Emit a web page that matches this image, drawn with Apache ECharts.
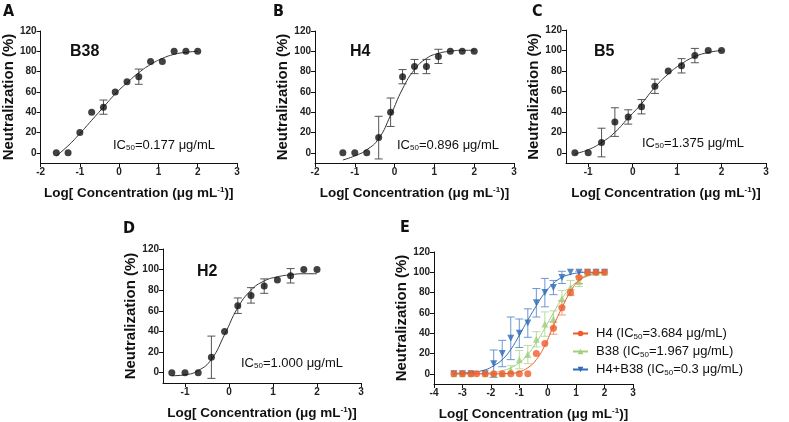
<!DOCTYPE html>
<html><head><meta charset="utf-8">
<script src="https://cdn.jsdelivr.net/npm/echarts@6/dist/echarts.min.js"></script>
<style>html,body{margin:0;padding:0;background:#fff}#c{width:789px;height:422px}</style>
</head><body><div id="c"></div>
<script>
// ---------- data ----------
// Panel A: B38
const xA = [-1.6,-1.3,-1.0,-0.7,-0.4,-0.1,0.2,0.5,0.8,1.1,1.4,1.7,2.0];
const yA = [0,0,20,40,45,60,70,75,90,90,100,100,100];
const eA = [0,0,0,0,7,0,0,7.5,0,0,0,0,0];
const cxA = [-1.6,-1.3,-1.0,-0.7,-0.4,-0.1,0.2,0.5,0.8,1.1,1.4,1.7,2.0];
const cyA = [-3,7,19,32,45,58,69,79,87,93,97,99,100];
// Panel B: H4
const xB = [-1.3,-1.0,-0.7,-0.4,-0.1,0.2,0.5,0.8,1.1,1.4,1.7,2.0];
const yB = [0,0,0,15,40,75,85,85,95,100,100,100];
const eB = [0,0,0,21,14,7,7,7,7,0,0,0];
const cxB = [-1.3,-1.0,-0.7,-0.4,-0.1,0.2,0.5,0.8,1.1,1.4,1.7,2.0];
const cyB = [-7,-3,3,14,37,63,82,93,98,100,101,101];
// Panel C: B5
const xC = [-1.3,-1.0,-0.7,-0.4,-0.1,0.2,0.5,0.8,1.1,1.4,1.7,2.0];
const yC = [0,0,10,30,35,45,65,80,85,95,100,100];
const eC = [0,0,14,14,7,7,7,0,7,7,0,0];
const cxC = [-1.3,-1.0,-0.7,-0.4,-0.1,0.2,0.5,0.8,1.1,1.4,1.7,2.0];
const cyC = [-1,3,10,20,34,48,64,77,87,94,98,100];
// Panel D: H2
const xD = [-1.3,-1.0,-0.7,-0.4,-0.1,0.2,0.5,0.8,1.1,1.4,1.7,2.0];
const yD = [0,0,0,15,40,65,75,84,90,94,100,100];
const eD = [0,0,0,20.5,0,7.5,7.5,7,0,7,0,0];
const cxD = [-1.3,-1.0,-0.7,-0.4,-0.1,0.2,0.5,0.8,1.1,1.4,1.7,2.0];
const cyD = [-3,-2,2,13,37,63,80,89,93,95,96,96];
// Panel E
const xE1 = [-3.3,-3.0,-2.7,-2.5,-2.2,-1.9,-1.6,-1.3,-1.0,-0.7,-0.4,-0.1,0.2,0.5,0.8,1.1,1.4,1.7,2.0];
const yE1 = [0,0,0,0,0,0,0,0,0,0,20,30,45,65,80,95,100,100,100];
const eE1 = [0,0,0,0,0,0,0,0,0,0,0,0,6,7,3,6,0,0,0];
const cxE1 = [-3.3,-2.0,-1.3,-1.0,-0.7,-0.4,-0.1,0.2,0.5,0.8,1.1,1.4,1.7,2.0];
const cyE1 = [0,0,0.5,2,6,14,28,47,65,81,92,97,99,100];
const xE2 = [-3.3,-3.0,-2.7,-2.2,-1.9,-1.6,-1.3,-1.0,-0.7,-0.4,-0.1,0.2,0.5,0.8,1.1,1.4,1.7,2.0];
const yE2 = [0,0,0,0,0,0,4,14,19,34,49,54,74,85,91,100,100,100];
const eE2 = [0,0,0,0,0,0,4,9,9,7.5,12,8,8,7,5,0,0,0];
const cxE2 = [-3.3,-2.3,-1.9,-1.6,-1.3,-1.0,-0.7,-0.4,-0.1,0.2,0.5,0.8,1.1,1.4,1.7,2.0];
const cyE2 = [0,0.5,1.5,3,6,11,19,31,45,60,74,85,92,96,98,99];
const xE3 = [-3.3,-3.0,-2.7,-2.2,-1.9,-1.6,-1.3,-1.0,-0.7,-0.4,-0.1,0.2,0.5,0.8,1.1,1.4,1.7,2.0];
const yE3 = [0,0,0,0,10,20,35,40,50,70,80,85,95,100,100,100,100,100];
const eE3 = [0,0,0,0,13.5,13,21,14,14,14,14,7,6,0,0,0,0,0];
const cxE3 = [-3.3,-2.7,-2.2,-1.9,-1.6,-1.3,-1.0,-0.7,-0.4,-0.1,0.2,0.5,0.8,1.1,1.4,2.0];
const cyE3 = [0.5,1.5,4,8,14,24,38,53,67,80,89,95,98,99.5,100,100];
// tick labels
const yTicks = [0,20,40,60,80,100,120];
const xTicksAB = [-2,-1,0,1,2,3];
const xTicksCD = [-1,0,1,2,3];
const xTicksE = [-4,-3,-2,-1,0,1,2,3];
const legendNames = ['H4 (IC50=3.684 μg/mL)','B38 (IC50=1.967 μg/mL)','H4+B38 (IC50=0.3 μg/mL)'];
const legendRich = ['H4 (IC{s|50}=3.684 μg/mL)','B38 (IC{s|50}=1.967 μg/mL)','H4+B38 (IC{s|50}=0.3 μg/mL)'];

// ---------- helpers ----------
const FONT = 'Liberation Sans, Arial, sans-serif';
const zip = (xs, ys) => xs.map((x, i) => [x, ys[i]]);
const errData = (xs, ys, es) => xs.map((x, i) => [x, ys[i] - es[i], ys[i] + es[i], es[i]]).filter(d => d[3] > 0);

function errSeries(idx, data, color) {
  return {
    type: 'custom', xAxisIndex: idx, yAxisIndex: idx, data: data, z: 2, silent: true,
    renderItem: function (params, api) {
      const x = api.value(0), lo = api.value(1), hi = api.value(2);
      const p1 = api.coord([x, hi]), p2 = api.coord([x, lo]);
      const w = 4, st = { stroke: color, lineWidth: 1 };
      return { type: 'group', children: [
        { type: 'line', shape: { x1: p1[0], y1: p1[1], x2: p2[0], y2: p2[1] }, style: st },
        { type: 'line', shape: { x1: p1[0] - w, y1: p1[1], x2: p1[0] + w, y2: p1[1] }, style: st },
        { type: 'line', shape: { x1: p2[0] - w, y1: p2[1], x2: p2[0] + w, y2: p2[1] }, style: st }
      ]};
    }
  };
}
function xAxisOf(idx, min, max, ticks) {
  return {
    gridIndex: idx, type: 'value', min: min, max: max,
    axisLine: { onZero: false, lineStyle: { color: '#111', width: 1 } },
    axisTick: { length: 4, lineStyle: { color: '#111' }, customValues: ticks },
    axisLabel: { customValues: ticks, fontSize: 10, fontWeight: 'bold', color: '#222', margin: 4, fontFamily: FONT },
    splitLine: { show: false },
    name: 'Log[ Concentration (μg mL{sup|-1})]', nameLocation: 'middle', nameGap: 23,
    nameTextStyle: { fontSize: 13.5, fontWeight: 'bold', color: '#111', fontFamily: FONT,
      rich: { sup: { fontSize: 8, fontWeight: 'bold', verticalAlign: 'top', color: '#111' } } }
  };
}
function yAxisOf(idx) {
  return {
    gridIndex: idx, type: 'value', min: -10, max: 120,
    axisLine: { onZero: false, lineStyle: { color: '#111', width: 1 } },
    axisTick: { length: 4, lineStyle: { color: '#111' }, customValues: yTicks },
    axisLabel: { customValues: yTicks, fontSize: 10, fontWeight: 'bold', color: '#222', margin: 4, fontFamily: FONT },
    splitLine: { show: false },
    name: 'Neutralization (%)', nameLocation: 'middle', nameGap: 22,
    nameTextStyle: { fontSize: 15, fontWeight: 'bold', color: '#111', fontFamily: FONT }
  };
}
function blackPanel(idx, xs, ys, es, cx, cy) {
  return [
    errSeries(idx, errData(xs, ys, es), '#555'),
    { type: 'line', xAxisIndex: idx, yAxisIndex: idx, data: zip(cx, cy), smooth: 0.5, showSymbol: false,
      lineStyle: { color: '#333', width: 1 }, z: 3, silent: true },
    { type: 'scatter', xAxisIndex: idx, yAxisIndex: idx, data: zip(xs, ys), symbol: 'circle', symbolSize: 7,
      itemStyle: { color: '#111' }, z: 4, silent: true }
  ];
}
const cOr = '#EF5B2B', cGr = '#9FD07C', cBl = '#2E6CB6';
function colorGroup(idx, name, xs, ys, es, cx, cy, color, errColor, symbol, rot, size, z) {
  return [
    errSeries(idx, errData(xs, ys, es), errColor),
    { name: name, type: 'line', xAxisIndex: idx, yAxisIndex: idx, data: zip(cx, cy), smooth: 0.5, showSymbol: false,
      symbol: symbol, symbolRotate: rot, symbolSize: size,
      lineStyle: { color: color, width: 1 }, itemStyle: { color: color }, z: z, silent: true },
    { type: 'scatter', xAxisIndex: idx, yAxisIndex: idx, data: zip(xs, ys), symbol: symbol, symbolRotate: rot,
      symbolSize: size, itemStyle: { color: color }, z: z + 1, silent: true }
  ];
}

const grids = [
  { left: 38, top: 31, width: 199, height: 132 },
  { left: 315, top: 31, width: 199, height: 132 },
  { left: 566, top: 30, width: 200, height: 133 },
  { left: 163, top: 249, width: 198, height: 134 },
  { left: 434, top: 252, width: 199, height: 132 }
];
const textLab = (x, y, txt, size, weight, fam) => ({
  type: 'text', x: x, y: y,
  style: { text: txt, fontSize: size, fontWeight: weight, fill: '#111', fontFamily: fam || FONT, verticalAlign: 'middle' }
});
const icLab = (x, y, val) => ({
  type: 'text', x: x, y: y,
  style: { text: '{a|IC}{s|50}{a|=' + val + ' μg/mL}', verticalAlign: 'middle',
    rich: { a: { fontSize: 13, fill: '#111', fontFamily: FONT }, s: { fontSize: 8, lineHeight: 6, fill: '#111', fontFamily: FONT, verticalAlign: 'bottom' } } }
});
const NARROW = 'Liberation Sans Narrow, DejaVu Sans Condensed, sans-serif';

const option = {
  animation: false,
  backgroundColor: '#fff',
  grid: grids,
  xAxis: [xAxisOf(0, -2, 3, xTicksAB), xAxisOf(1, -2, 3, xTicksAB), xAxisOf(2, -1.5, 3, xTicksCD),
          xAxisOf(3, -1.5, 3, xTicksCD), xAxisOf(4, -4, 3, xTicksE)],
  yAxis: [yAxisOf(0), yAxisOf(1), yAxisOf(2), yAxisOf(3), yAxisOf(4)],
  legend: {
    data: legendNames, orient: 'vertical', left: 572, top: 326, padding: 0, itemWidth: 15, itemHeight: 7, itemGap: 3,
    formatter: function (n) { return legendRich[legendNames.indexOf(n)]; },
    textStyle: { fontSize: 13, color: '#111', fontFamily: FONT, lineHeight: 15, padding: [0, 0, 0, 3],
      rich: { s: { fontSize: 8, lineHeight: 6, verticalAlign: 'bottom', color: '#111' } } }
  },
  series: [].concat(
    blackPanel(0, xA, yA, eA, cxA, cyA),
    blackPanel(1, xB, yB, eB, cxB, cyB),
    blackPanel(2, xC, yC, eC, cxC, cyC),
    blackPanel(3, xD, yD, eD, cxD, cyD),
    colorGroup(4, legendNames[2], xE3, yE3, eE3, cxE3, cyE3, cBl, '#6B97D0', 'triangle', 180, 7, 3),
    colorGroup(4, legendNames[1], xE2, yE2, eE2, cxE2, cyE2, cGr, '#B7DDA0', 'triangle', 0, 7, 5),
    colorGroup(4, legendNames[0], xE1, yE1, eE1, cxE1, cyE1, cOr, '#F29A7A', 'circle', 0, 7, 7)
  ),
  graphic: [
    textLab(3, 12, 'A', 16, 'bold', NARROW),
    textLab(273, 12, 'B', 16, 'bold', NARROW),
    textLab(532, 12, 'C', 16, 'bold', NARROW),
    textLab(123, 229, 'D', 16, 'bold', NARROW),
    textLab(400, 228, 'E', 16, 'bold', NARROW),
    textLab(70, 52, 'B38', 16, 'bold'),
    textLab(350, 52, 'H4', 16, 'bold'),
    textLab(594, 52, 'B5', 16, 'bold'),
    textLab(197, 272, 'H2', 16, 'bold'),
    icLab(113, 145, '0.177'),
    icLab(397, 145, '0.896'),
    icLab(642, 143, '1.375'),
    icLab(241, 363, '1.000')
  ]
};
const chart = echarts.init(document.getElementById('c'), null, { renderer: 'canvas' });
chart.setOption(option);
</script></body></html>
